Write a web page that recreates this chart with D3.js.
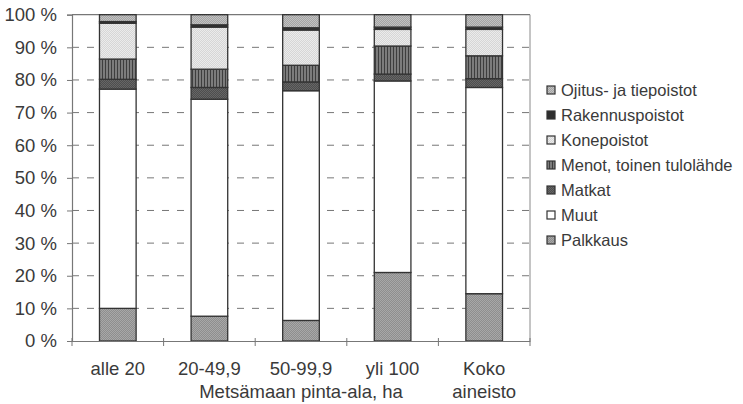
<!DOCTYPE html>
<html>
<head>
<meta charset="utf-8">
<script src="https://cdn.jsdelivr.net/npm/d3@7"></script>
<style>
  html, body { margin: 0; padding: 0; background: #fff; }
  svg { display: block; }
  text { font-family: Arial, "Liberation Sans", Helvetica, sans-serif; fill: #3a3a3a; }
</style>
</head>
<body>
<svg id="chart" width="743" height="404"></svg>
<script>
const categories = ["alle 20", "20-49,9", "50-99,9", "yli 100", "Koko aineisto"];
const seriesNames = ["Palkkaus", "Muut", "Matkat", "Menot, toinen tulolähde", "Konepoistot", "Rakennuspoistot", "Ojitus- ja tiepoistot"];
const palkkaus        = [10.0,  7.6,  6.3, 21.0, 14.5];
const muut            = [67.2, 66.5, 70.4, 58.7, 63.2];
const matkat          = [ 3.0,  3.6,  2.7,  2.1,  2.7];
const menot           = [ 6.2,  5.6,  5.1,  8.6,  7.0];
const konepoistot     = [11.0, 12.9, 10.8,  5.1,  8.1];
const rakennuspoistot = [ 0.5,  0.7,  0.7,  0.7,  0.7];
const ojitus          = [ 2.1,  3.1,  4.0,  3.8,  3.8];
const yTickValues = [0, 10, 20, 30, 40, 50, 60, 70, 80, 90, 100];
const yTickLabels = ["0 %", "10 %", "20 %", "30 %", "40 %", "50 %", "60 %", "70 %", "80 %", "90 %", "100 %"];
const xAxisTitle = "Metsämaan pinta-ala, ha";

const seriesValues = [palkkaus, muut, matkat, menot, konepoistot, rakennuspoistot, ojitus];
const keys = ["s0", "s1", "s2", "s3", "s4", "s5", "s6"];
const table = categories.map((c, i) => {
  const row = { cat: c };
  keys.forEach((k, j) => row[k] = seriesValues[j][i]);
  return row;
});

const svg = d3.select("#chart");
const defs = svg.append("defs");

function checker(id, a, b) {
  const p = defs.append("pattern").attr("id", id).attr("width", 2).attr("height", 2)
    .attr("patternUnits", "userSpaceOnUse");
  p.append("rect").attr("width", 2).attr("height", 2).attr("fill", a);
  p.append("rect").attr("width", 1).attr("height", 1).attr("fill", b);
  p.append("rect").attr("x", 1).attr("y", 1).attr("width", 1).attr("height", 1).attr("fill", b);
}
checker("pPalk", "#8e8e8e", "#a8a8a8");
checker("pMatk", "#4e4e4e", "#666");
checker("pKone", "#d6d6d6", "#ebebeb");
checker("pOjit", "#a4a4a4", "#c2c2c2");
{
  const p = defs.append("pattern").attr("id", "pMeno").attr("width", 3).attr("height", 3)
    .attr("patternUnits", "userSpaceOnUse");
  p.append("rect").attr("width", 3).attr("height", 3).attr("fill", "#7c7c7c");
  p.append("rect").attr("width", 1).attr("height", 3).attr("fill", "#3e3e3e");
}
const fills = ["url(#pPalk)", "#ffffff", "url(#pMatk)", "url(#pMeno)", "url(#pKone)", "#2e2e2e", "url(#pOjit)"];

const plotLeft = 72, plotRight = 530, plotTop = 14.7, plotBottom = 341;

const x = d3.scaleBand().domain(categories).range([plotLeft, plotRight]).paddingInner(0.6).paddingOuter(0.3);
const y = d3.scaleLinear().domain([0, 100]).range([plotBottom, plotTop]);

// plot border (top and right)
svg.append("line").attr("x1", plotLeft).attr("x2", plotRight).attr("y1", y(100)).attr("y2", y(100))
  .attr("stroke", "#777").attr("stroke-width", 1.2);
svg.append("line").attr("x1", plotRight).attr("x2", plotRight).attr("y1", y(100)).attr("y2", y(0))
  .attr("stroke", "#8a8a8a").attr("stroke-width", 1);

// gridlines
svg.append("g").selectAll("line").data(yTickValues.filter(v => v > 0 && v < 100)).join("line")
  .attr("x1", plotLeft).attr("x2", plotRight)
  .attr("y1", d => y(d)).attr("y2", d => y(d))
  .attr("stroke", "#777").attr("stroke-width", 1).attr("stroke-dasharray", "7,8");

// bars
const stack = d3.stack().keys(keys).offset(d3.stackOffsetExpand);
const stacked = stack(table);
const yPct = v => y(v * 100);
svg.append("g").selectAll("g").data(stacked).join("g")
  .attr("fill", (d, i) => fills[i])
  .selectAll("rect").data(d => d).join("rect")
  .attr("x", d => x(d.data.cat))
  .attr("width", x.bandwidth())
  .attr("y", d => yPct(d[1]))
  .attr("height", d => yPct(d[0]) - yPct(d[1]))
  .attr("stroke", "#333").attr("stroke-width", 1.3);

// y axis
const yAxis = d3.axisLeft(y).tickValues(yTickValues).tickFormat((d, i) => yTickLabels[i]).tickSize(5).tickPadding(10);
const gy = svg.append("g").attr("transform", `translate(${plotLeft},0)`).call(yAxis);
gy.select(".domain").attr("stroke", "#777").attr("stroke-width", 1.2);
gy.selectAll(".tick line").attr("stroke", "#777");
gy.selectAll(".tick text").style("font-size", "18.5px").attr("fill", "#3a3a3a")
  .attr("font-family", "Arial, 'Liberation Sans', sans-serif");

// x axis
const gx = svg.append("g").attr("transform", `translate(0,${plotBottom})`)
  .call(d3.axisBottom(x).tickSize(0).tickFormat(""));
gx.select(".domain").attr("stroke", "#777").attr("stroke-width", 1.2);
const bounds = categories.map(c => x(c) + x.bandwidth() / 2 - x.step() / 2)
  .concat([x(categories[categories.length - 1]) + x.bandwidth() / 2 + x.step() / 2]);
gx.selectAll(".bt").data(bounds).join("line").attr("class", "bt")
  .attr("x1", d => d).attr("x2", d => d).attr("y1", -3).attr("y2", 5)
  .attr("stroke", "#777").attr("stroke-width", 1);

const labelG = svg.append("g");
categories.forEach(c => {
  const parts = c === "Koko aineisto" ? ["Koko", "aineisto"] : [c];
  parts.forEach((p, k) => {
    labelG.append("text").attr("x", x(c) + x.bandwidth() / 2).attr("y", 375 + k * 23)
      .attr("text-anchor", "middle").style("font-size", "18.5px").text(p);
  });
});
svg.append("text").attr("x", (plotLeft + plotRight) / 2).attr("y", 398)
  .attr("text-anchor", "middle").style("font-size", "18.5px").text(xAxisTitle);

// legend
const legend = svg.append("g");
const order = [6, 5, 4, 3, 2, 1, 0];
order.forEach((si, k) => {
  const ly = 90 + k * 25;
  legend.append("rect").attr("x", 547).attr("y", ly - 4).attr("width", 8).attr("height", 8)
    .attr("fill", fills[si]).attr("stroke", "#333").attr("stroke-width", 1.2);
  legend.append("text").attr("x", 561).attr("y", ly + 6).style("font-size", "16.5px").text(seriesNames[si]);
});
</script>
</body>
</html>
